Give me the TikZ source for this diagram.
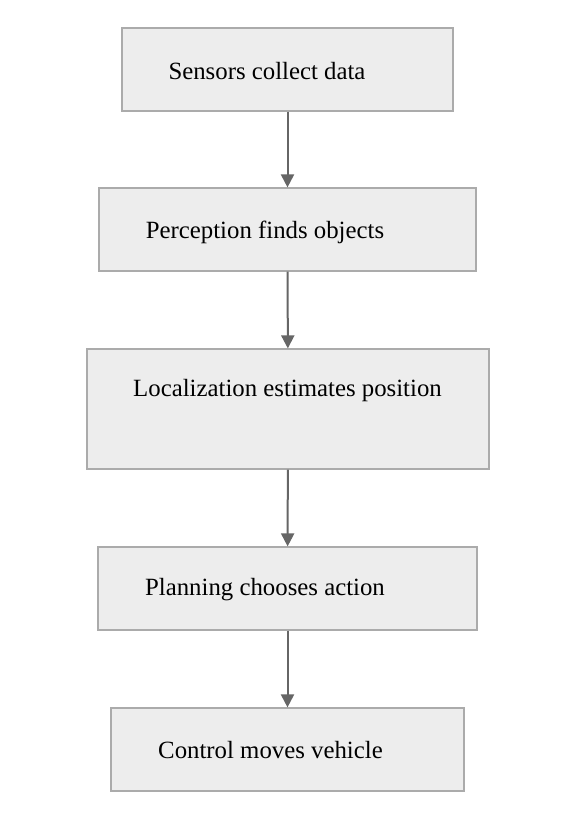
\documentclass[tikz,border=0pt]{standalone}
\usepackage{fontspec}
\setmainfont{Liberation Serif}
\usetikzlibrary{arrows.meta}

\begin{document}
\begin{tikzpicture}[x=1pt, y=-1pt]
			\tikzset{
				stage/.style={rectangle, minimum height=83pt, draw=black!33, fill=black!7, line width=1.2pt, inner sep=0pt},
				caption/.style={font=\fontsize{24.8}{29}\selectfont, text=black, inner sep=0pt},
				arrow/.style={draw=black!60, line width=2pt, -{Triangle[width=13pt,length=13pt]}},
			}
			\useasboundingbox (0,0) rectangle (576,820);
			\node[stage, minimum width=331pt](sensors) at (287.5,69.5){};
			\node[stage, minimum width=377pt](percept) at (287.5,229.5){};
			\node[stage, minimum width=402pt, minimum height=120pt](local) at (288,409){};
			\node[stage, minimum width=379pt](plan) at (287.5,588.5){};
			\node[stage, minimum width=353pt](control) at (287.5,749.5){};
			%texts
			\node[caption](sensorstext) at (267,71){Sensors collect data};
			\node[caption](percepttext) at (265,232){Perception finds objects};
			\node[caption](localtext) at (287.5,391){Localization estimates position};
			\node[caption](plantext) at (265,590){Planning chooses action};
			\node[caption](controltext) at (270.5,750){Control moves vehicle};
			%draw arrows
			\draw[arrow] (sensors) -- (percept);
			\draw[arrow] (percept) -- (local);
			\draw[arrow] (local) -- (plan);
			\draw[arrow] (plan) -- (control);
		\end{tikzpicture}
\end{document}
